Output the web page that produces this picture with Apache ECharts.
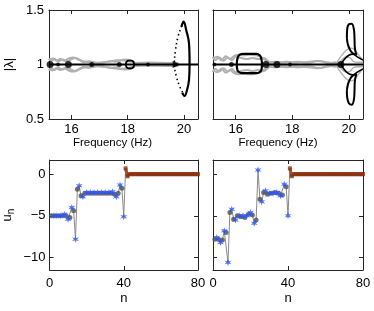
<!DOCTYPE html>
<html><head><meta charset="utf-8">
<script src="https://cdn.jsdelivr.net/npm/echarts@6/dist/echarts.min.js"></script>
<style>html,body{margin:0;padding:0;background:#fff}#c{width:374px;height:311px}</style>
</head><body><div id="c"></div>
<script>
// ---------- top panels: |lambda| vs frequency ----------
var freqTicks = [16, 18, 20];
var lamTicks = [0.5, 1, 1.5];
var baseLine = [[15.2, 1], [20.5, 1]];

// left panel grey braided band
var greyL1 = [[15.2,1.04],[15.33,1.055],[15.46,1.035],[15.6,1.05],[15.75,1.035],[15.9,1.055],[16.05,1.065],[16.2,1.055],[16.35,1.035],[16.5,1.025],[16.7,1.02],[16.9,1.015],[17.1,1.02],[17.3,1.025],[17.5,1.035],[17.7,1.04],[17.9,1.045],[18.1,1.04],[18.3,1.01],[18.5,1.0]];
var greyL2 = [[15.2,1.055],[15.27,1.035],[15.4,1.05],[15.53,1.03],[15.68,1.045],[15.83,1.03],[15.98,1.045],[16.12,1.06],[16.28,1.04],[16.45,1.02],[16.6,1.03],[16.8,1.02],[17.0,1.01],[17.2,1.02],[17.4,1.03],[17.6,1.025],[17.8,1.04],[18.0,1.03],[18.2,1.02],[18.4,1.0]];
var greyL3 = [[15.2,0.96],[15.33,0.945],[15.46,0.965],[15.6,0.95],[15.75,0.965],[15.9,0.945],[16.05,0.935],[16.2,0.945],[16.35,0.965],[16.5,0.975],[16.7,0.98],[16.9,0.985],[17.1,0.98],[17.3,0.975],[17.5,0.965],[17.7,0.96],[17.9,0.955],[18.1,0.96],[18.3,0.99],[18.5,1.0]];
var greyL4 = [[15.2,0.945],[15.27,0.965],[15.4,0.95],[15.53,0.97],[15.68,0.955],[15.83,0.97],[15.98,0.955],[16.12,0.94],[16.28,0.96],[16.45,0.98],[16.6,0.97],[16.8,0.98],[17.0,0.99],[17.2,0.98],[17.4,0.97],[17.6,0.975],[17.8,0.96],[18.0,0.97],[18.2,0.98],[18.4,1.0]];
var greyLTail = [[18.2,1.0],[18.8,1.005],[19.4,1.0],[19.8,1.0]];
// left panel black features
var ringL = [[17.93,1],[17.96,1.025],[18.03,1.035],[18.13,1.035],[18.2,1.025],[18.23,1],[18.2,0.975],[18.13,0.965],[18.03,0.965],[17.96,0.975],[17.93,1]];
var loopLSolid = [[19.91,1.347],[19.99,1.393],[20.08,1.317],[20.18,1.195],[20.2,1.01],[20.18,0.858],[20.11,0.766],[20.02,0.711],[19.94,0.74]];
var loopLDotted = [[19.99,1.393],[19.91,1.347],[19.79,1.255],[19.7,1.133],[19.66,1.0],[19.73,0.89],[19.85,0.80],[20.02,0.711]];
var dotsLBig = [[15.24,1],[15.89,1]];
var dotsLMid = [[16.72,1],[17.7,1]];
var dotsLSmall = [[15.52,1],[18.72,1]];
var arrowL = [[19.74,1]];

// right panel grey braided band
var greyR1 = [[15.2,1.05],[15.35,1.07],[15.5,1.04],[15.65,1.075],[15.8,1.05],[15.95,1.08],[16.1,1.09],[16.3,1.085],[16.5,1.09],[16.7,1.085],[16.9,1.07],[17.05,1.04],[17.2,1.02],[17.4,1.025],[17.6,1.02],[17.8,1.025],[18.0,1.02],[18.2,1.025],[18.4,1.02],[18.6,1.025],[18.8,1.03],[19.0,1.03],[19.2,1.02],[19.4,1.015],[19.6,1.0]];
var greyR2 = [[15.2,1.07],[15.28,1.04],[15.42,1.065],[15.57,1.035],[15.72,1.065],[15.87,1.04],[16.0,1.07],[16.2,1.06],[16.4,1.05],[16.6,1.06],[16.8,1.05],[17.0,1.06],[17.15,1.03],[17.3,1.015],[17.5,1.02],[17.7,1.015],[17.9,1.02],[18.1,1.015],[18.3,1.02],[18.5,1.015],[18.7,1.02],[18.9,1.035],[19.1,1.025],[19.3,1.01],[19.5,1.02],[19.7,1.0]];
var greyR3 = [[15.2,0.95],[15.35,0.93],[15.5,0.96],[15.65,0.925],[15.8,0.95],[15.95,0.92],[16.1,0.91],[16.3,0.915],[16.5,0.91],[16.7,0.915],[16.9,0.93],[17.05,0.96],[17.2,0.98],[17.4,0.975],[17.6,0.98],[17.8,0.975],[18.0,0.98],[18.2,0.975],[18.4,0.98],[18.6,0.975],[18.8,0.97],[19.0,0.97],[19.2,0.98],[19.4,0.985],[19.6,1.0]];
var greyR4 = [[15.2,0.93],[15.28,0.96],[15.42,0.935],[15.57,0.965],[15.72,0.935],[15.87,0.96],[16.0,0.93],[16.2,0.94],[16.4,0.95],[16.6,0.94],[16.8,0.95],[17.0,0.94],[17.15,0.97],[17.3,0.985],[17.5,0.98],[17.7,0.985],[17.9,0.98],[18.1,0.985],[18.3,0.98],[18.5,0.985],[18.7,0.98],[18.9,0.965],[19.1,0.975],[19.3,0.99],[19.5,0.98],[19.7,1.0]];
var greyCusp1 = [[19.55,1],[19.65,1.05],[19.8,1.1],[19.95,1.14],[20.1,1.15],[20.25,1.12],[20.4,1.07],[20.5,1.04]];
var greyCusp2 = [[19.6,1],[19.75,1.04],[19.9,1.07],[20.05,1.06],[20.15,1.03],[20.3,1.02],[20.5,1.02]];
var greyCusp3 = [[19.55,1],[19.65,0.95],[19.8,0.9],[19.95,0.86],[20.1,0.85],[20.25,0.88],[20.4,0.93],[20.5,0.96]];
var greyCusp4 = [[19.6,1],[19.75,0.96],[19.9,0.93],[20.05,0.94],[20.15,0.97],[20.3,0.98],[20.5,0.98]];
// right panel black features
var ovalR = [[16.04,1],[16.06,1.05],[16.12,1.085],[16.25,1.097],[16.48,1.098],[16.72,1.097],[16.85,1.085],[16.91,1.05],[16.93,1],[16.91,0.95],[16.85,0.93],[16.72,0.92],[16.48,0.92],[16.25,0.92],[16.12,0.93],[16.06,0.95],[16.04,1]];
var loopRUp = [[19.93,1.24],[19.94,1.32],[20.0,1.37],[20.1,1.375],[20.18,1.32],[20.2,1.24],[20.21,1.16],[20.26,1.09],[20.15,1.10],[20.05,1.13],[19.97,1.18],[19.93,1.24]];
var loopRLow = [[19.93,0.76],[19.94,0.70],[20.0,0.645],[20.1,0.63],[20.18,0.68],[20.2,0.76],[20.21,0.84],[20.26,0.91],[20.15,0.90],[20.05,0.87],[19.97,0.82],[19.93,0.76]];
var branchRUp = [[19.72,1],[19.85,1.05],[20.0,1.085],[20.15,1.095],[20.3,1.07],[20.5,1.04]];
var branchRLow = [[19.72,1],[19.85,0.95],[20.0,0.915],[20.15,0.905],[20.3,0.93],[20.5,0.96]];
var dotsRBig = [[17.07,1],[17.46,1],[19.72,1]];
var dotsRMid = [[15.85,1]];
var dotsRSmall = [[15.25,1],[17.92,1]];

// ---------- bottom panels: u_n vs n ----------
var nTicks = [0, 40, 80];
var uTicks = [-10, -5, 0];
var uLeft = [-5,-5,-5,-5,-5,-5,-5,-4.8,-5,-5.4,
             -5.2,-4.0,-4.4,-7.8,-1.8,-1.4,-2.6,-2.7,-2.3,-2.2,
             -2.3,-2.2,-2.3,-2.2,-2.3,-2.2,-2.3,-2.2,-2.3,-2.2,
             -2.3,-2.2,-2.3,-2.1,-2.4,-2.7,-2.3,-1.3,-1.7,-5.1,
             0.7,-0.25,0,0,0,0,0,0,0,0,
             0,0,0,0,0,0,0,0,0,0,
             0,0,0,0,0,0,0,0,0,0,
             0,0,0,0,0,0,0,0,0,0];
var uRight = [-7.8,-7.6,-7.8,-8.2,-7.9,-6.8,-7.0,-10.6,-4.6,-4.2,
              -5.4,-5.5,-5.0,-5.0,-5.1,-5.0,-5.2,-5.0,-4.8,-4.6,
              -4.9,-5.9,-5.5,0.5,-3.0,-3.3,-2.2,-2.0,-2.4,-2.3,
              -2.3,-2.3,-2.2,-2.2,-2.3,-2.6,-2.5,-1.2,-1.5,-5.0,
              0.7,-0.25,0,0,0,0,0,0,0,0,
              0,0,0,0,0,0,0,0,0,0,
              0,0,0,0,0,0,0,0,0,0,
              0,0,0,0,0,0,0,0,0,0];

// ---------- build ----------
var FONT = "'Liberation Sans', Arial, sans-serif";
var AX = '#262626';
var grids = [
  {left: 49, top: 10, width: 149, height: 109},
  {left: 213, top: 10, width: 150, height: 109},
  {left: 48, top: 160, width: 150, height: 110},
  {left: 213, top: 160, width: 150, height: 110}
];
function fmt(v) { return String(v).replace('-', '\u2212'); }
var xAxes = [], yAxes = [];
function addAxes(g, xmin, xmax, xt, ymin, ymax, yt, showY, xname, yname, yrich, xm, xng, ym, xnfs, xnpad) {
  [0, 1].forEach(function (k) {
    xAxes.push({
      gridIndex: g, type: 'value', min: xmin, max: xmax, position: k ? 'top' : 'bottom',
      axisLine: {show: true, onZero: false, lineStyle: {color: AX, width: 1}},
      axisTick: {show: true, inside: true, length: 4, customValues: xt, lineStyle: {color: AX}},
      axisLabel: {show: !k, customValues: xt, color: '#000', fontSize: 13, fontFamily: FONT, margin: xm, formatter: fmt},
      splitLine: {show: false},
      name: k ? '' : xname, nameLocation: 'middle', nameGap: xng,
      nameTextStyle: {color: '#000', fontSize: xnfs, fontFamily: FONT, padding: xnpad}
    });
    yAxes.push({
      gridIndex: g, type: 'value', min: ymin, max: ymax, position: k ? 'right' : 'left',
      axisLine: {show: true, onZero: false, lineStyle: {color: AX, width: 1}},
      axisTick: {show: true, inside: true, length: 4, customValues: yt, lineStyle: {color: AX}},
      axisLabel: {show: !k && showY, customValues: yt, color: '#000', fontSize: 13, fontFamily: FONT, margin: ym, formatter: fmt},
      splitLine: {show: false},
      name: (k || !showY) ? '' : yname, nameLocation: 'middle', nameGap: 33, nameRotate: 90,
      nameTextStyle: {color: '#000', fontSize: 13, fontFamily: FONT, rich: yrich || {}}
    });
  });
}
addAxes(0, 15.2, 20.5, freqTicks, 0.5, 1.5, lamTicks, true, 'Frequency (Hz)', '|\u03bb|', null, 4, 17, 5, 11.5, [0, 22, 0, 0]);
addAxes(1, 15.2, 20.5, freqTicks, 0.5, 1.5, lamTicks, false, 'Frequency (Hz)', '', null, 4, 17, 5, 11.5, [0, 20, 0, 0]);
addAxes(2, 0, 80, nTicks, -11.5, 1.7, uTicks, true, 'n', 'u{s|n}',
        {s: {fontSize: 10, fontFamily: FONT, color: '#000', padding: [8, 0, 0, 0]}}, 7, 22, 4, 13, 0);
addAxes(3, 0, 80, nTicks, -11.5, 1.7, uTicks, false, 'n', '', null, 7, 22, 4, 13, 0);

var series = [];
function ln(g, data, color, width, extra) {
  var s = {type: 'line', xAxisIndex: 2 * g, yAxisIndex: 2 * g, data: data, showSymbol: false,
    symbol: 'none', smooth: 0.4, lineStyle: {color: color, width: width}, silent: true, z: 2};
  if (extra) for (var k in extra) s[k] = extra[k];
  series.push(s);
}
function dots(g, data, color, size, symbol, extra) {
  var s = {type: 'scatter', xAxisIndex: 2 * g, yAxisIndex: 2 * g, data: data,
    symbol: symbol || 'circle', symbolSize: size, itemStyle: {color: color}, silent: true, z: 4};
  if (extra) for (var k in extra) s[k] = extra[k];
  series.push(s);
}
var GREY = '#b0b0b0';
// left top
[greyL1, greyL2, greyL3, greyL4].forEach(function (d) { ln(0, d, GREY, 2); });
ln(0, greyLTail, GREY, 5, {smooth: false});
ln(0, baseLine, '#000', 2.2, {smooth: false, z: 3});
ln(0, ringL, '#000', 1.8, {z: 3});
ln(0, loopLSolid, '#000', 2.2, {z: 3});
ln(0, loopLDotted, '#000', 1.6, {z: 3, lineStyle: {color: '#000', width: 1.6, type: [1.5, 3]}});
dots(0, dotsLBig, '#000', 7);
dots(0, dotsLMid, '#000', 5);
dots(0, dotsLSmall, '#000', 4);
dots(0, arrowL, '#000', [7, 8], 'triangle', {symbolRotate: -90});
// right top
[greyR1, greyR2, greyR3, greyR4].forEach(function (d) { ln(1, d, GREY, 2); });
[greyCusp1, greyCusp2, greyCusp3, greyCusp4].forEach(function (d) { ln(1, d, GREY, 1.4); });
ln(1, baseLine, '#000', 2.2, {smooth: false, z: 3});
ln(1, ovalR, '#000', 2.2, {z: 3});
ln(1, loopRUp, '#000', 2, {z: 3});
ln(1, loopRLow, '#000', 2, {z: 3});
ln(1, branchRUp, '#000', 1.6, {z: 3});
ln(1, branchRLow, '#000', 1.6, {z: 3});
dots(1, dotsRBig, '#000', 7);
dots(1, dotsRMid, '#000', 5);
dots(1, dotsRSmall, '#000', 4);

// bottom
var STAR = 'path://M0,-10 L2,-3.46 L8.66,-5 L4,0 L8.66,5 L2,3.46 L0,10 L-2,3.46 L-8.66,5 L-4,0 L-8.66,-5 L-2,-3.46 Z';
function bottom(g, u) {
  var all = [], blue = [], grey = [], brown = [];
  u.forEach(function (v, i) {
    var n = i + 1, p = [n, v];
    all.push(p);
    if (n > 40) brown.push(p); else if (n % 2 === 0) blue.push(p); else grey.push(p);
  });
  ln(g, all.slice(0, 42), '#8a8a8a', 1, {smooth: false});
  ln(g, brown, '#a8542c', 3.2, {smooth: false, z: 3});
  dots(g, brown, '#8b3210', 4, 'rect');
  dots(g, grey, '#505050', 5, 'circle');
  dots(g, blue, '#2a55ff', 7, STAR);
}
bottom(2, uLeft);
bottom(3, uRight);

var chart = echarts.init(document.getElementById('c'), null, {renderer: 'canvas'});
chart.setOption({
  animation: false,
  backgroundColor: '#fff',
  grid: grids,
  xAxis: xAxes,
  yAxis: yAxes,
  series: series
});
</script></body></html>
